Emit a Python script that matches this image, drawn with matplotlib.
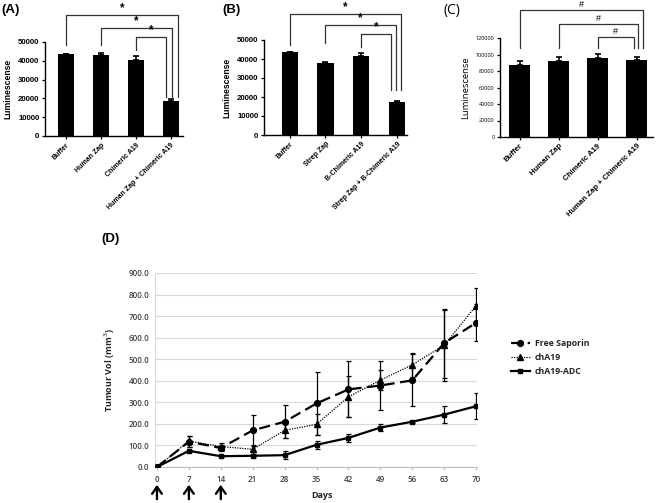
import matplotlib
matplotlib.use("Agg")
import matplotlib.pyplot as plt
import matplotlib.transforms as mtransforms
from matplotlib.lines import Line2D
import numpy as np

# ---------------- data ----------------
labels_A = ["Buffer", "Human Zap", "Chimeric A19", "Human Zap + Chimeric A19"]
values_A = [43500, 43000, 40500, 18800]
errors_A = [300, 1300, 2000, 1000]

labels_B = ["Buffer", "Strep Zap", "B-Chimeric A19", "Strep Zap + B-Chimeric A19"]
values_B = [43500, 37700, 41500, 17200]
errors_B = [200, 500, 1500, 500]

labels_C = ["Buffer", "Human Zap", "Chimeric A19", "Human Zap + Chimeric A19"]
values_C = [87000, 92500, 95500, 93000]
errors_C = [5000, 5000, 5500, 4500]

days = [0, 7, 14, 21, 28, 35, 42, 49, 56, 63, 70]
free_saporin = [0, 118, 88, 170, 210, 295, 360, 378, 402, 575, 669]
free_saporin_err = [0, 25, 15, 73, 76, 146, 130, 113, 120, 160, 86]
cha19 = [0, 120, 95, 82, 170, 198, 325, 403, 474, 565, 748]
cha19_err = [0, 25, 15, 20, 35, 50, 95, 45, 55, 165, 84]
adc = [0, 75, 50, 52, 55, 103, 135, 183, 210, 243, 282]
adc_err = [0, 5, 5, 5, 20, 18, 20, 15, 5, 40, 60]
dose_days = [0, 7, 14]
series_names = ["Free Saporin", "chA19", "chA19-ADC"]

W, H = 660, 503
fig = plt.figure(figsize=(W / 100, H / 100), dpi=100)


def rect(l, t, r, b):
    return [l / W, 1 - b / H, (r - l) / W, (b - t) / H]


def bar_panel(r, labels, values, errors, xlim, ylim, yticks, width, brackets, sym,
              fam, weight, xfs, yfs, lfs):
    ax = fig.add_axes(rect(*r))
    x = np.arange(len(values))
    ax.bar(x, values, width=width, color="black", zorder=2)
    ax.errorbar(x, values, yerr=[np.zeros(len(errors)), errors], fmt="none",
                ecolor="black", elinewidth=1.2, capsize=2.5, capthick=1.2, zorder=3)
    ax.set_xlim(*xlim)
    ax.set_ylim(*ylim)
    ax.set_yticks(yticks)
    ax.set_xticks(x)
    ax.set_xticklabels(labels, rotation=45, ha="right", rotation_mode="anchor",
                       fontsize=xfs, fontweight="bold", family="Liberation Sans")
    for t in ax.get_yticklabels():
        t.set_fontsize(yfs)
        t.set_fontweight(weight)
        t.set_family(fam)
    ax.spines["top"].set_visible(False)
    ax.spines["right"].set_visible(False)
    ax.spines["left"].set_linewidth(1.0)
    ax.spines["bottom"].set_linewidth(1.0)
    ax.tick_params(length=2.5, width=0.9, pad=1.5)
    ax.set_ylabel("Luminescense", fontsize=lfs, fontweight=weight, family=fam, labelpad=4)
    tr = mtransforms.blended_transform_factory(ax.transData, ax.transAxes)
    for (xl, xr, ytop, ylb, yrb) in brackets:
        ax.plot([xl, xl, xr, xr], [ylb, ytop, ytop, yrb], color="#333333", lw=0.9,
                transform=tr, clip_on=False)
        ax.text((xl + xr) / 2, ytop + 0.01, sym, transform=tr, ha="center", va="bottom",
                fontsize=8.5 if sym == "*" else 6.5, fontweight="bold" if sym == "*" else "normal",
                family="Liberation Sans", clip_on=False)
    return ax


axA = bar_panel((45, 42, 183, 136), labels_A, values_A, errors_A, (-0.6, 3.35), (0, 50000),
                np.arange(0, 50001, 10000), 0.45,
                [(0, 3.21, 1.287, 0.968, 0.415), (1, 3.04, 1.149, 0.968, 0.415),
                 (2, 2.87, 1.053, 0.915, 0.415)], "*", "Liberation Sans", "bold", 5.0, 5.6, 6.2)
axB = bar_panel((264, 40, 407, 135), labels_B, values_B, errors_B, (-0.72, 3.28), (0, 50000),
                np.arange(0, 50001, 10000), 0.45,
                [(0, 3.11, 1.274, 0.947, 0.474), (1, 2.97, 1.158, 0.968, 0.474),
                 (2, 2.83, 1.063, 0.926, 0.474)], "*", "Liberation Sans", "bold", 5.0, 5.6, 6.2)
axC = bar_panel((500, 38, 653, 137), labels_C, values_C, errors_C, (-0.5, 3.42), (0, 120000),
                np.arange(0, 120001, 20000), 0.54,
                [(0, 3.17, 1.283, 0.899, 0.899), (1, 3.04, 1.141, 0.899, 0.899),
                 (2, 2.94, 1.010, 0.899, 0.899)], "#", "Open Sans", "normal", 5.6, 4.0, 6.8)

fig.text(1 / W, 1 - 4 / H, "(A)", fontsize=9.5, fontweight="bold", family="Liberation Sans",
         ha="left", va="top")
fig.text(222 / W, 1 - 4 / H, "(B)", fontsize=9.5, fontweight="bold", family="Liberation Sans",
         ha="left", va="top")
fig.text(443 / W, 1 - 3 / H, "(C)", fontsize=10, fontweight="normal", family="Open Sans",
         ha="left", va="top")
fig.text(101 / W, 1 - 233 / H, "(D)", fontsize=9.5, fontweight="bold", family="Liberation Sans",
         ha="left", va="top")

# ---------------- panel D ----------------
axD = fig.add_axes(rect(154.7, 273, 477, 467))
tcol = "#404040"
styles = [dict(lw=1.6, dashes=(5, 2.5), marker="o", ms=4.2),
          dict(lw=0.9, linestyle=(0, (1, 1)), marker="^", ms=3.8),
          dict(lw=1.6, linestyle="-", marker="s", ms=3.2)]
for yv, ye, st, name in zip([free_saporin, cha19, adc],
                            [free_saporin_err, cha19_err, adc_err], styles, series_names):
    axD.errorbar(days, yv, yerr=ye, color="black", capsize=1.8, elinewidth=0.9,
                 capthick=0.9, zorder=3, **st)
axD.set_xlim(-0.5, 70.2)
axD.set_ylim(0, 900)
axD.set_yticks(np.arange(0, 901, 100))
axD.set_yticklabels([f"{v:.1f}" for v in np.arange(0, 901, 100)])
axD.set_xticks(days)
axD.grid(axis="y", color="#d9d9d9", lw=0.8, zorder=0)
axD.set_axisbelow(True)
for s in ["top", "right"]:
    axD.spines[s].set_visible(False)
axD.spines["left"].set_color("#d9d9d9")
axD.spines["bottom"].set_color("#bfbfbf")
axD.tick_params(axis="y", length=0, pad=4, labelsize=5.8, labelcolor=tcol)
axD.tick_params(axis="x", length=2.5, color="#bfbfbf", pad=3, labelsize=5.8, labelcolor=tcol)
for t in axD.get_xticklabels() + axD.get_yticklabels():
    t.set_family("Open Sans")
    t.set_fontweight("semibold")
axD.set_ylabel("Tumour Vol (mm$^3$)", fontsize=6.5, fontweight="bold", family="Open Sans",
               color="#262626", labelpad=8)
fig.text(322 / W, 1 - 495 / H, "Days", fontsize=6.5, fontweight="bold", family="Open Sans",
         color="#262626", ha="center", va="center")

trD = mtransforms.blended_transform_factory(axD.transData, fig.transFigure)
for d in dose_days:
    axD.annotate("", xy=(d, 1 - 482 / H), xytext=(d, 1 - 502 / H), xycoords=trD,
                 textcoords=trD, arrowprops=dict(arrowstyle="->,head_length=0.5,head_width=0.35",
                                                 lw=1.7, color="black"),
                 annotation_clip=False)

handles = [Line2D([], [], color="black", **st) for st in styles]
leg = axD.legend(handles, series_names, loc="upper left", bbox_to_anchor=(507 / W, 1 - 336 / H),
                 bbox_transform=fig.transFigure, frameon=False, fontsize=6.3, numpoints=1,
                 handlelength=2.2, handletextpad=0.6, labelspacing=0.55, borderaxespad=0)
for t in leg.get_texts():
    t.set_family("Open Sans")
    t.set_fontweight("bold")
    t.set_color("#262626")

fig.savefig("out.png", dpi=100)
